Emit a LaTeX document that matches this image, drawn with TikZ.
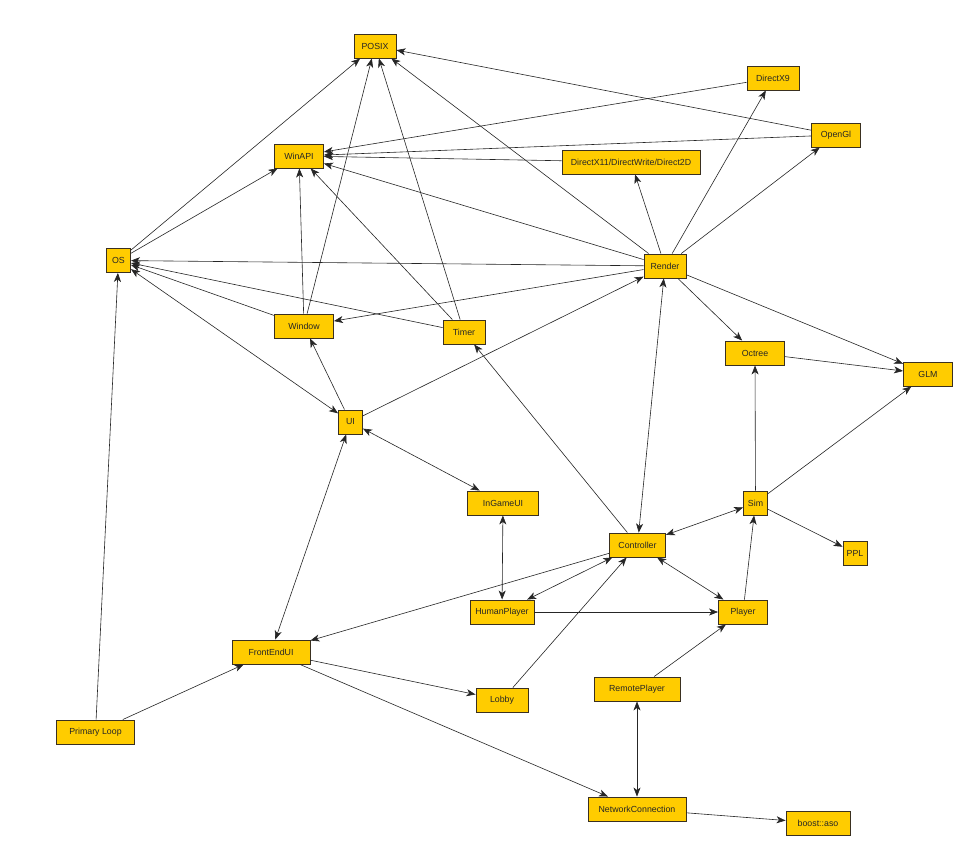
\documentclass[tikz,border=0pt]{standalone}
\usepackage{fontspec}
\setmainfont{Liberation Sans}
\usetikzlibrary{arrows.meta}
\definecolor{boxfill}{HTML}{FFCC00}
\definecolor{boxline}{HTML}{3A3020}
\tikzset{
  box/.style={draw=boxline, fill=boxfill, line width=0.9pt, inner sep=0pt,
    minimum height=24pt, font=\fontsize{8.8}{10}\selectfont, text=black!85},
  tip/.tip={Stealth[length=9pt,width=7pt,inset=2.5pt]},
  dep/.style={-tip, line width=0.6pt, draw=black!85},
  bidep/.style={tip-tip, line width=0.6pt, draw=black!85}
}
\begin{document}
\begin{tikzpicture}[x=1pt,y=-1pt]
\useasboundingbox (0,0) rectangle (962,845);
\fill[white] (0,0) rectangle (962,845);
% nodes
\node[box, minimum width=42pt] (posix) at (375,46) {POSIX};
\node[box, minimum width=49pt] (winapi) at (299,156) {WinAPI};
\node[box, minimum width=24pt] (os) at (118.5,260.5) {OS};
\node[box, minimum width=59pt] (window) at (304,326) {Window};
\node[box, minimum width=42pt] (timer) at (464,332) {Timer};
\node[box, minimum width=24pt] (ui) at (350.5,422) {UI};
\node[box, minimum width=71pt] (ingameui) at (503,503) {InGameUI};
\node[box, minimum width=56pt] (controller) at (637.5,545) {Controller};
\node[box, minimum width=52pt] (dx9) at (773,78) {DirectX9};
\node[box, minimum width=49pt] (opengl) at (836,135) {OpenGl};
\node[box, minimum width=138pt] (dx11) at (631,162) {DirectX11/DirectWrite/Direct2D};
\node[box, minimum width=42pt] (render) at (665,266) {Render};
\node[box, minimum width=59pt] (octree) at (755,353) {Octree};
\node[box, minimum width=49pt] (glm) at (928,374) {GLM};
\node[box, minimum width=24pt] (sim) at (755.5,503) {Sim};
\node[box, minimum width=24pt] (ppl) at (855,553) {PPL};
\node[box, minimum width=64pt] (human) at (502,612) {HumanPlayer};
\node[box, minimum width=49pt] (player) at (743,612) {Player};
\node[box, minimum width=86pt] (remote) at (637,689) {RemotePlayer};
\node[box, minimum width=52pt] (lobby) at (502,700) {Lobby};
\node[box, minimum width=98pt] (net) at (637,809) {NetworkConnection};
\node[box, minimum width=64pt] (boost) at (818,823) {boost::aso};
\node[box, minimum width=78pt] (frontend) at (271,652) {FrontEndUI};
\node[box, minimum width=78pt] (primary) at (95.5,732) {Primary Loop};
% edges
\draw[dep] (os) -- (posix);
\draw[dep] (os) -- (winapi);
\draw[dep] (render) -- (posix);
\draw[dep] (opengl) -- (posix);
\draw[dep] (window) -- (posix);
\draw[dep] (timer) -- (posix);
\draw[dep] (dx9) -- (winapi);
\draw[dep] (opengl) -- (winapi);
\draw[dep] (dx11) -- (winapi);
\draw[dep] (render) -- (winapi);
\draw[dep] (window) -- (winapi);
\draw[dep] (timer) -- (winapi);
\draw[dep] (render) -- (os);
\draw[dep] (window) -- (os);
\draw[dep] (timer) -- (os);
\draw[bidep] (os) -- (ui);
\draw[dep] (primary) -- (os);
\draw[dep] (primary) -- (frontend);
\draw[dep] (render) -- (window);
\draw[dep] (render) -- (dx9);
\draw[dep] (render) -- (dx11);
\draw[dep] (render) -- (opengl);
\draw[dep] (render) -- (octree);
\draw[dep] (render) -- (glm);
\draw[dep] (ui) -- (window);
\draw[dep] (ui) -- (render);
\draw[bidep] (ui) -- (ingameui);
\draw[bidep] (ui) -- (frontend);
\draw[dep] (controller) -- (timer);
\draw[bidep] (render) -- (controller);
\draw[bidep] (controller) -- (sim);
\draw[dep] (sim) -- (octree);
\draw[dep] (sim) -- (glm);
\draw[dep] (sim) -- (ppl);
\draw[dep] (octree) -- (glm);
\draw[dep] (controller) -- (frontend);
\draw[bidep] (controller) -- (human);
\draw[dep] (lobby) -- (controller);
\draw[bidep] (controller) -- (player);
\draw[dep] (human) -- (player);
\draw[bidep] (ingameui) -- (human);
\draw[dep] (player) -- (sim);
\draw[dep] (remote) -- (player);
\draw[bidep] (remote) -- (net);
\draw[dep] (frontend) -- (lobby);
\draw[dep] (frontend) -- (net);
\draw[dep] (net) -- (boost);
\end{tikzpicture}
\end{document}
